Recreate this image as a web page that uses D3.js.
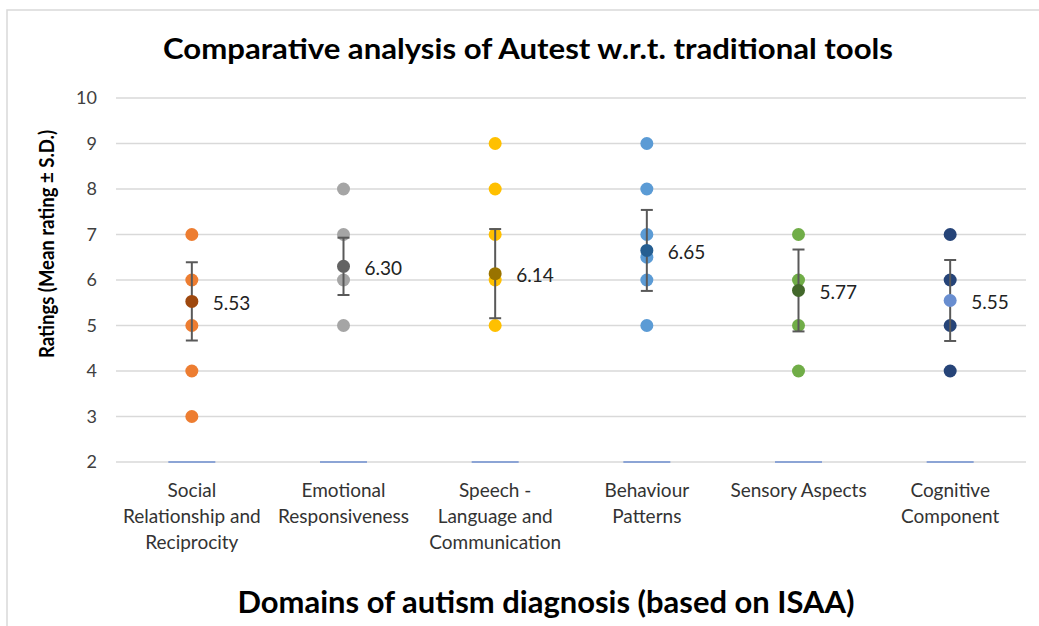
<!DOCTYPE html>
<html>
<head>
<meta charset="utf-8">
<script src="https://cdn.jsdelivr.net/npm/d3@7"></script>
<style>
  body { margin: 0; background: #fff; }
  svg { display: block; font-family: Lato, "Open Sans", sans-serif; }
</style>
</head>
<body>
<div id="chart"></div>
<script>
// Domains (x categories)
const domains = [
  ["Social", "Relationship and", "Reciprocity"],
  ["Emotional", "Responsiveness"],
  ["Speech -", "Language and", "Communication"],
  ["Behaviour", "Patterns"],
  ["Sensory Aspects"],
  ["Cognitive", "Component"]
];
const domainKeys = domains.map((d) => d.join(" "));

// Individual ratings per domain
const ratings = [
  [7, 6, 5, 4, 3],
  [8, 7, 6, 5],
  [9, 8, 7, 6, 5],
  [9, 8, 7, 6.5, 6, 5],
  [7, 6, 5, 4],
  [7, 6, 5, 4]
];

// Mean rating and standard deviation
const means = [5.53, 6.30, 6.14, 6.65, 5.77, 5.55];
const sds = [0.86, 0.63, 0.98, 0.89, 0.9, 0.89];

const yTicks = [2, 3, 4, 5, 6, 7, 8, 9, 10];

const pointColors = ["#ED7D31", "#A5A5A5", "#FFC000", "#5B9BD5", "#70AD47", "#264478"];
const meanColors = ["#9E480E", "#636363", "#997300", "#255E91", "#43682B", "#698ED0"];

const width = 1039, height = 626;

const svg = d3.select("#chart").append("svg")
  .attr("width", width)
  .attr("height", height);

// chart border (cropped on right/bottom)
svg.append("path")
  .attr("d", "M7,1000 L7,10 L1100,10")
  .attr("fill", "none")
  .attr("stroke", "#D9D9D9")
  .attr("stroke-width", 1.5);

const x = d3.scaleBand()
  .domain(domainKeys)
  .range([116, 1026]);

const y = d3.scaleLinear()
  .domain([2, 10])
  .range([462, 98]);

// gridlines
svg.append("g")
  .selectAll("line")
  .data(yTicks)
  .enter()
  .append("line")
  .attr("x1", 116)
  .attr("x2", 1026)
  .attr("y1", (d) => y(d))
  .attr("y2", (d) => y(d))
  .attr("stroke", "#D9D9D9")
  .attr("stroke-width", 1.5);

// y tick labels
const yAxis = svg.append("g")
  .attr("transform", "translate(116,0)")
  .call(d3.axisLeft(y).tickValues(yTicks).tickSize(0).tickPadding(19));
yAxis.select(".domain").remove();
yAxis.selectAll("text")
  .attr("font-size", 18)
  .attr("font-family", "Lato, sans-serif")
  .attr("fill", "#404040");

// blue baseline segments
svg.append("g")
  .selectAll("line")
  .data(domainKeys)
  .enter()
  .append("line")
  .attr("x1", (d) => x(d) + x.bandwidth() / 2 - 23.5)
  .attr("x2", (d) => x(d) + x.bandwidth() / 2 + 23.5)
  .attr("y1", y(2))
  .attr("y2", y(2))
  .attr("stroke", "#6F8FD0")
  .attr("stroke-width", 1.5);

const cx = (i) => x(domainKeys[i]) + x.bandwidth() / 2;

// individual points
ratings.forEach((vals, i) => {
  svg.append("g")
    .selectAll("circle")
    .data(vals)
    .enter()
    .append("circle")
    .attr("cx", cx(i))
    .attr("cy", (d) => y(d))
    .attr("r", 6.5)
    .attr("fill", pointColors[i]);
});

// error bars
const eb = svg.append("g")
  .attr("stroke", "#595959")
  .attr("stroke-width", 2);
means.forEach((m, i) => {
  const c = cx(i);
  eb.append("line")
    .attr("x1", c).attr("x2", c)
    .attr("y1", y(m + sds[i])).attr("y2", y(m - sds[i]));
  [m + sds[i], m - sds[i]].forEach((v) => {
    eb.append("line")
      .attr("x1", c - 6).attr("x2", c + 6)
      .attr("y1", y(v)).attr("y2", y(v));
  });
});

// mean points + labels
svg.append("g")
  .selectAll("circle")
  .data(means)
  .enter()
  .append("circle")
  .attr("cx", (d, i) => cx(i))
  .attr("cy", (d) => y(d))
  .attr("r", 6.5)
  .attr("fill", (d, i) => meanColors[i]);

svg.append("g")
  .selectAll("text")
  .data(means)
  .enter()
  .append("text")
  .attr("x", (d, i) => cx(i) + 21)
  .attr("y", (d) => y(d) + 1)
  .attr("dominant-baseline", "central")
  .attr("font-size", 19)
  .attr("fill", "#222")
  .text((d) => d.toFixed(2));

// x category labels
domains.forEach((lines, i) => {
  const t = svg.append("text")
    .attr("text-anchor", "middle")
    .attr("font-size", 19)
    .attr("fill", "#333");
  lines.forEach((ln, j) => {
    t.append("tspan")
      .attr("x", cx(i))
      .attr("y", 497 + j * 26)
      .text(ln);
  });
});

// title
svg.append("text")
  .attr("x", 528)
  .attr("y", 59)
  .attr("text-anchor", "middle")
  .attr("font-size", 29)
  .attr("font-weight", "bold")
  .attr("fill", "#000")
  .attr("textLength", 730)
  .attr("lengthAdjust", "spacingAndGlyphs")
  .text("Comparative analysis of Autest w.r.t. traditional tools");

// x axis title
svg.append("text")
  .attr("x", 546)
  .attr("y", 613)
  .attr("text-anchor", "middle")
  .attr("font-size", 30)
  .attr("font-weight", "bold")
  .attr("fill", "#000")
  .attr("textLength", 617)
  .attr("lengthAdjust", "spacingAndGlyphs")
  .text("Domains of autism diagnosis (based on ISAA)");

// y axis title
svg.append("text")
  .attr("transform", "translate(54,244) rotate(-90)")
  .attr("text-anchor", "middle")
  .attr("font-size", 21)
  .attr("font-weight", "bold")
  .attr("fill", "#000")
  .attr("textLength", 228)
  .attr("lengthAdjust", "spacingAndGlyphs")
  .text("Ratings (Mean rating ± S.D.)");
</script>
</body>
</html>
